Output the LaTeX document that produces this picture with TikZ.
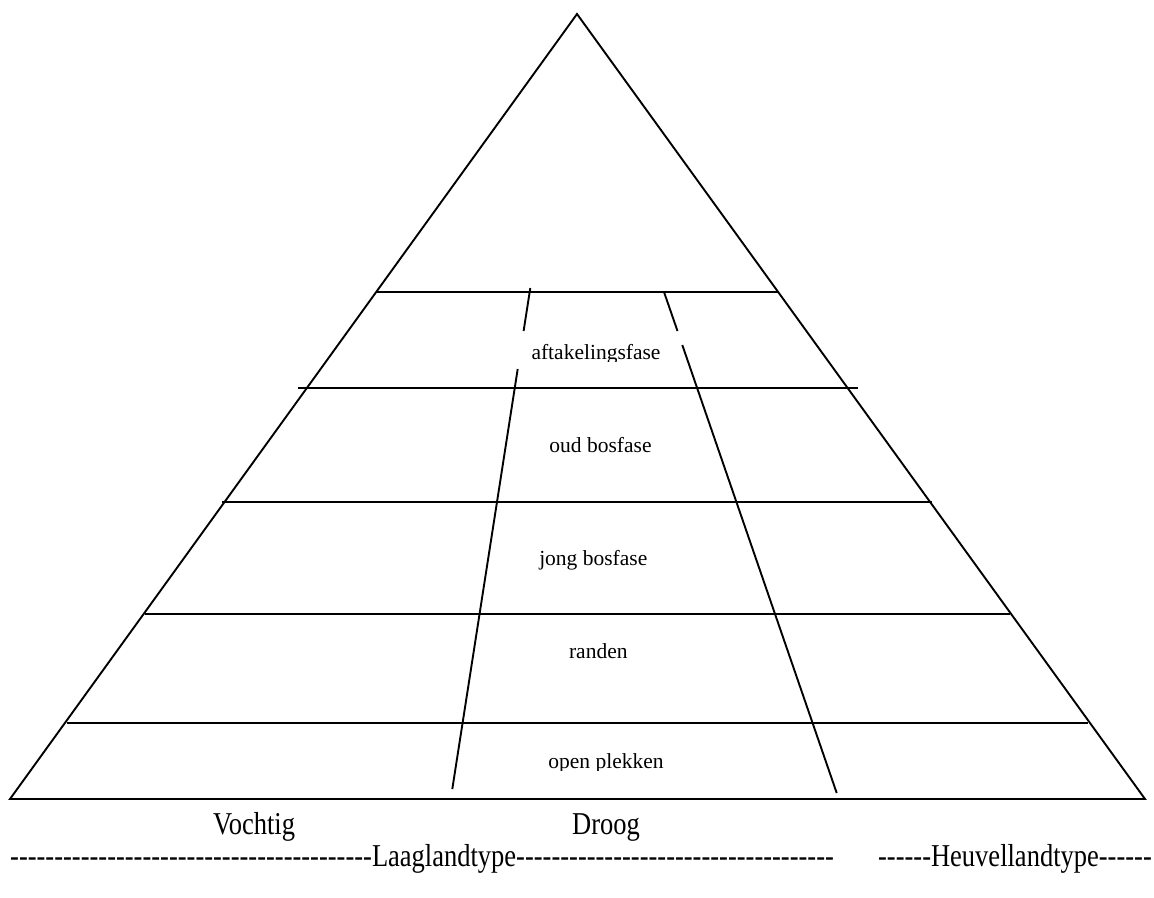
\documentclass[tikz,border=0pt]{standalone}
\usepackage{fontspec}
\usepackage{graphicx}
\setmainfont{Liberation Serif}
\newfontfamily\plainserif{Liberation Serif}
% a row of separate hyphens (the kern keeps them from joining into dashes)
\newcommand\dashrun[1]{\foreach\k in {1,...,#1}{-\kern0pt}}
% the axis texts are set a little taller than wide
\newcommand\tallset[1]{\scalebox{1}[1.2]{#1}}
\begin{document}
\begin{tikzpicture}[x=1pt,y=-1pt,
  edge/.style={line width=1.9pt, line cap=butt},
  stage/.style={anchor=base, inner sep=0pt, font=\plainserif\fontsize{21.5}{24}\selectfont},
  axislabel/.style={inner sep=0pt, font=\plainserif\fontsize{26.5}{30}\selectfont}]
\useasboundingbox (0,0) rectangle (1154,897);

% outer triangle
\coordinate (apex) at (577,14);
\coordinate (bl) at (10,799);
\coordinate (br) at (1145,799);
\draw[edge, line join=miter] (bl) -- (apex) -- (br) -- cycle;

% horizontal dividers between the phases
\coordinate (h1l) at (377,292);  \coordinate (h1r) at (778,292);
\coordinate (h2l) at (298,388);  \coordinate (h2r) at (858,388);
\coordinate (h3l) at (222,502);  \coordinate (h3r) at (932,502);
\coordinate (h4l) at (145,614);  \coordinate (h4r) at (1010,614);
\coordinate (h5l) at (67,723);   \coordinate (h5r) at (1088,723);
\foreach \h in {1,...,5} \draw[edge] (h\h l) -- (h\h r);

% slanted dividers (interrupted around the top label)
\coordinate (la) at (530.3,288); \coordinate (lb) at (523.6,331);
\coordinate (lc) at (517.7,369); \coordinate (ld) at (452.3,789);
\coordinate (ra) at (664,292);   \coordinate (rb) at (677.5,331);
\coordinate (rc) at (682.3,345); \coordinate (rd) at (836.7,793);
\draw[edge] (la) -- (lb);
\draw[edge] (lc) -- (ld);
\draw[edge] (ra) -- (rb);
\draw[edge] (rc) -- (rd);

% phase labels
\begin{scope}
  \clip (520,330) rectangle (680,361);
  \node[stage] (p1) at (596,359) {aftakelingsfase};
\end{scope}
\node[stage] (p2) at (600.5,452) {oud bosfase};
\node[stage] (p3) at (593.3,565) {jong bosfase};
\node[stage] (p4) at (598.3,658) {randen};
\begin{scope}
  \clip (530,740) rectangle (680,770);
  \node[stage] (p5) at (606,768) {open plekken};
\end{scope}

% axis texts below the base
\node[axislabel, anchor=base] (wet) at (254,834) {\tallset{Vochtig}};
\node[axislabel, anchor=base] (dry) at (606,834) {\tallset{Droog}};
\node[axislabel, anchor=base west] (low) at (10,866) {\tallset{\dashrun{41}Laaglandtype\dashrun{36}}};
\node[axislabel, anchor=base east] (hill) at (1152,866) {\tallset{\dashrun{6}Heuvellandtype\dashrun{6}}};
\end{tikzpicture}
\end{document}
